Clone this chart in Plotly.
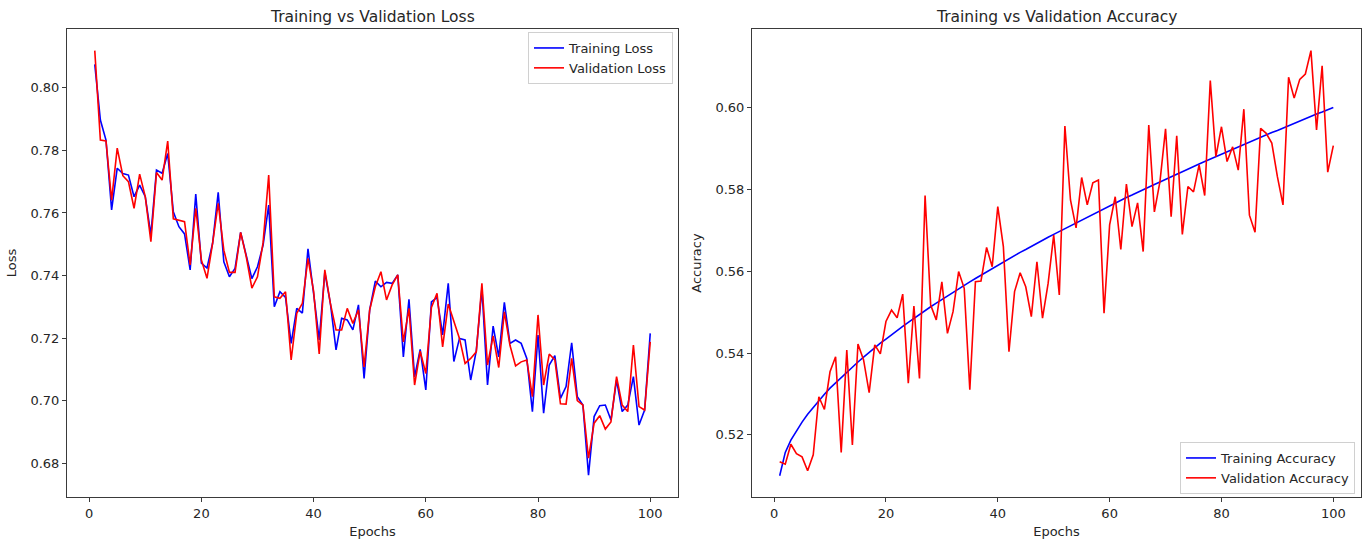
import plotly.graph_objects as go

epochs = list(range(1, 101))

train_loss = [
    0.8075, 0.7897, 0.7833, 0.7610, 0.7743, 0.7726, 0.7721, 0.7652, 0.7689, 0.7652,
    0.7530, 0.7737, 0.7727, 0.7790, 0.7604, 0.7556, 0.7533, 0.7418, 0.7660, 0.7440,
    0.7424, 0.7503, 0.7666, 0.7444, 0.7396, 0.7423, 0.7538, 0.7460, 0.7390, 0.7428,
    0.7497, 0.7625, 0.7300, 0.7348, 0.7330, 0.7183, 0.7295, 0.7280, 0.7485, 0.7343,
    0.7194, 0.7410, 0.7310, 0.7162, 0.7263, 0.7258, 0.7226, 0.7306, 0.7071, 0.7290,
    0.7382, 0.7364, 0.7378, 0.7375, 0.7402, 0.7140, 0.7324, 0.7076, 0.7164, 0.7034,
    0.7316, 0.7330, 0.7210, 0.7375, 0.7125, 0.7199, 0.7194, 0.7066, 0.7160, 0.7359,
    0.7050, 0.7238, 0.7140, 0.7314, 0.7183, 0.7194, 0.7183, 0.7135, 0.6965, 0.7210,
    0.6960, 0.7114, 0.7144, 0.7007, 0.7045, 0.7185, 0.7013, 0.6986, 0.6762, 0.6949,
    0.6984, 0.6986, 0.6938, 0.7066, 0.6965, 0.6986, 0.7077, 0.6922, 0.6970, 0.7215,
]

val_loss = [
    0.8119, 0.7833, 0.7830, 0.7641, 0.7807, 0.7719, 0.7700, 0.7615, 0.7724, 0.7652,
    0.7508, 0.7729, 0.7705, 0.7830, 0.7581, 0.7577, 0.7572, 0.7434, 0.7615, 0.7450,
    0.7391, 0.7503, 0.7631, 0.7481, 0.7410, 0.7410, 0.7538, 0.7460, 0.7360, 0.7396,
    0.7505, 0.7721, 0.7332, 0.7327, 0.7348, 0.7130, 0.7279, 0.7311, 0.7455, 0.7350,
    0.7149, 0.7418, 0.7310, 0.7226, 0.7226, 0.7295, 0.7247, 0.7290, 0.7108, 0.7290,
    0.7364, 0.7412, 0.7322, 0.7370, 0.7402, 0.7188, 0.7295, 0.7050, 0.7158, 0.7087,
    0.7298, 0.7343, 0.7172, 0.7309, 0.7250, 0.7199, 0.7119, 0.7135, 0.7156, 0.7375,
    0.7114, 0.7207, 0.7106, 0.7284, 0.7177, 0.7111, 0.7124, 0.7130, 0.7013, 0.7274,
    0.7050, 0.7149, 0.7130, 0.6990, 0.6989, 0.7135, 0.7000, 0.6986, 0.6816, 0.6928,
    0.6952, 0.6909, 0.6932, 0.7077, 0.6986, 0.6965, 0.7178, 0.6981, 0.6970, 0.7188,
]

train_acc = [
    0.5100, 0.5157, 0.5187, 0.5210, 0.5231, 0.5250, 0.5267, 0.5284, 0.5299, 0.5314,
    0.5327, 0.5341, 0.5354, 0.5366, 0.5378, 0.5390, 0.5402, 0.5413, 0.5424, 0.5434,
    0.5445, 0.5455, 0.5465, 0.5475, 0.5485, 0.5494, 0.5504, 0.5513, 0.5522, 0.5531,
    0.5540, 0.5548, 0.5557, 0.5566, 0.5574, 0.5582, 0.5590, 0.5599, 0.5607, 0.5615,
    0.5623, 0.5630, 0.5638, 0.5646, 0.5653, 0.5661, 0.5668, 0.5676, 0.5683, 0.5690,
    0.5697, 0.5705, 0.5712, 0.5719, 0.5726, 0.5733, 0.5739, 0.5746, 0.5753, 0.5760,
    0.5766, 0.5773, 0.5780, 0.5786, 0.5793, 0.5799, 0.5806, 0.5812, 0.5818, 0.5825,
    0.5831, 0.5837, 0.5843, 0.5850, 0.5856, 0.5862, 0.5868, 0.5874, 0.5880, 0.5886,
    0.5892, 0.5898, 0.5904, 0.5910, 0.5916, 0.5921, 0.5927, 0.5933, 0.5939, 0.5944,
    0.5950, 0.5956, 0.5961, 0.5967, 0.5972, 0.5978, 0.5984, 0.5989, 0.5995, 0.6000,
]

val_acc = [
    0.5134, 0.5128, 0.5177, 0.5154, 0.5146, 0.5112, 0.5151, 0.5293, 0.5262, 0.5354,
    0.5391, 0.5157, 0.5407, 0.5175, 0.5422, 0.5383, 0.5303, 0.5420, 0.5398, 0.5477,
    0.5505, 0.5486, 0.5544, 0.5326, 0.5515, 0.5338, 0.5785, 0.5517, 0.5481, 0.5574,
    0.5448, 0.5501, 0.5599, 0.5558, 0.5310, 0.5574, 0.5576, 0.5658, 0.5611, 0.5758,
    0.5660, 0.5403, 0.5550, 0.5596, 0.5562, 0.5489, 0.5623, 0.5485, 0.5570, 0.5688,
    0.5542, 0.5955, 0.5774, 0.5706, 0.5829, 0.5762, 0.5816, 0.5823, 0.5497, 0.5713,
    0.5782, 0.5653, 0.5813, 0.5709, 0.5767, 0.5648, 0.5957, 0.5745, 0.5819, 0.5948,
    0.5733, 0.5931, 0.5690, 0.5807, 0.5794, 0.5860, 0.5785, 0.6066, 0.5880, 0.5953,
    0.5868, 0.5904, 0.5847, 0.5996, 0.5737, 0.5695, 0.5949, 0.5937, 0.5913, 0.5831,
    0.5762, 0.6074, 0.6023, 0.6069, 0.6082, 0.6139, 0.5945, 0.6102, 0.5842, 0.5907,
]

x_ticks = [0, 20, 40, 60, 80, 100]
loss_ticks = [0.68, 0.70, 0.72, 0.74, 0.76, 0.78, 0.80]
acc_ticks = [0.52, 0.54, 0.56, 0.58, 0.60]

W, H = 1362, 540
TXT = "#262626"
FRAME = "#3a3a3a"
FONT = "DejaVu Sans"
FS = 13

fig = go.Figure()
fig.add_trace(go.Scatter(x=epochs, y=train_loss, mode="lines", name="Training Loss",
                         line=dict(color="#0000ff", width=1.6), xaxis="x", yaxis="y", legend="legend"))
fig.add_trace(go.Scatter(x=epochs, y=val_loss, mode="lines", name="Validation Loss",
                         line=dict(color="#ff0000", width=1.6), xaxis="x", yaxis="y", legend="legend"))
fig.add_trace(go.Scatter(x=epochs, y=train_acc, mode="lines", name="Training Accuracy",
                         line=dict(color="#0000ff", width=1.6), xaxis="x2", yaxis="y2", legend="legend2"))
fig.add_trace(go.Scatter(x=epochs, y=val_acc, mode="lines", name="Validation Accuracy",
                         line=dict(color="#ff0000", width=1.6), xaxis="x2", yaxis="y2", legend="legend2"))

left_dom = [67 / W, 678 / W]
right_dom = [752 / W, 1361 / W]
y_dom = [1 - 497 / H, 1 - 29 / H]

axis_common = dict(
    showgrid=False, zeroline=False, showline=True, linecolor=FRAME, linewidth=1,
    mirror=True, ticks="outside", ticklen=4, tickwidth=1, tickcolor=FRAME,
    tickfont=dict(family=FONT, size=FS, color=TXT), automargin=False,
)
title_font = dict(family=FONT, size=FS, color=TXT)
legend_common = dict(bgcolor="rgba(255,255,255,0.8)", bordercolor="#d0d0d0", borderwidth=1,
                     font=dict(family=FONT, size=FS, color=TXT), tracegroupgap=0, itemwidth=30)

fig.update_layout(
    width=W, height=H,
    margin=dict(l=0, r=0, t=0, b=0),
    paper_bgcolor="white", plot_bgcolor="white",
    font=dict(family=FONT, color=TXT),
    xaxis=dict(domain=left_dom, range=[-3.95, 104.95], tickvals=x_ticks, anchor="y",
               title=dict(text="Epochs", font=title_font, standoff=7), **axis_common),
    yaxis=dict(domain=y_dom, range=[0.6692, 0.8188], tickvals=loss_ticks, tickformat=".2f", anchor="x",
               title=dict(text="Loss", font=title_font, standoff=10), **axis_common),
    xaxis2=dict(domain=right_dom, range=[-3.95, 104.95], tickvals=x_ticks, anchor="y2",
                title=dict(text="Epochs", font=title_font, standoff=7), **axis_common),
    yaxis2=dict(domain=y_dom, range=[0.5048, 0.6192], tickvals=acc_ticks, tickformat=".2f", anchor="x2",
                title=dict(text="Accuracy", font=title_font, standoff=10), **axis_common),
    legend=dict(x=673 / W, y=1 - 32 / H, xanchor="right", yanchor="top", **legend_common),
    legend2=dict(x=1355 / W, y=1 - 494 / H, xanchor="right", yanchor="bottom", **legend_common),
    showlegend=True,
    annotations=[
        dict(text="Training vs Validation Loss", x=(left_dom[0] + left_dom[1]) / 2, y=1 - 17 / H,
             xref="paper", yref="paper", xanchor="center", yanchor="middle", showarrow=False,
             font=dict(family=FONT, size=15.5, color=TXT)),
        dict(text="Training vs Validation Accuracy", x=(right_dom[0] + right_dom[1]) / 2, y=1 - 17 / H,
             xref="paper", yref="paper", xanchor="center", yanchor="middle", showarrow=False,
             font=dict(family=FONT, size=15.5, color=TXT)),
    ],
)

fig.write_html("out.html",
               config={"displayModeBar": False},
               post_script="document.body.style.margin='0';document.body.style.padding='0';"
                           "document.body.style.overflow='hidden';")
